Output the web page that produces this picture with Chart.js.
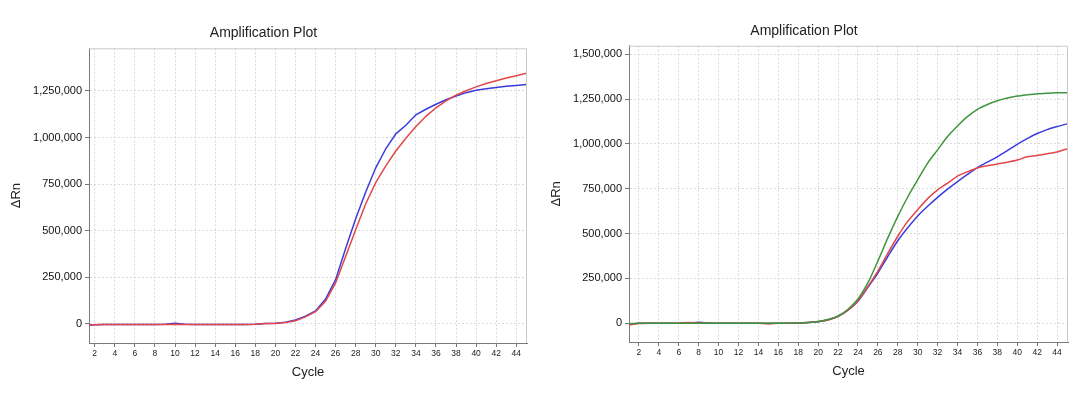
<!DOCTYPE html>
<html>
<head>
<meta charset="utf-8">
<script src="https://cdn.jsdelivr.net/npm/chart.js@4"></script>
<style>
  body { margin: 0; background: #fff; }
  .panel { position: absolute; top: 0; height: 393px; }
  #leftBox { left: 0; width: 530px; }
  #rightBox { left: 540px; width: 535px; }
</style>
</head>
<body>
<div class="panel" id="leftBox"><canvas id="leftChart"></canvas></div>
<div class="panel" id="rightBox"><canvas id="rightChart"></canvas></div>
<script>
// cycles 1..45
const cycles = [1, 2, 3, 4, 5, 6, 7, 8, 9, 10, 11, 12, 13, 14, 15, 16, 17, 18, 19, 20, 21, 22, 23,
  24, 25, 26, 27, 28, 29, 30, 31, 32, 33, 34, 35, 36, 37, 38, 39, 40, 41, 42, 43, 44, 45];

// left plot
const leftBlue = [-8000, -4000, -3000, -3000, -3000, -3000, -3000, -3000, -2000, 4000, -2000, -3000,
  -3000, -3000, -3000, -3000, -3000, -2000, 2000, 4000, 9000, 21000, 42000, 70000, 134000, 238000,
  405000, 565000, 708000, 838000, 940000, 1020000, 1066000, 1122000, 1152000, 1179000, 1203000,
  1223000, 1241000, 1254000, 1262000, 1269000, 1275000, 1280000, 1285000];
const leftRed = [-6000, -4000, -3000, -3000, -3000, -3000, -3000, -3000, -3000, -1000, -3000, -3000,
  -3000, -3000, -3000, -3000, -3000, -1000, 3000, 3000, 8000, 17000, 38000, 66000, 122000, 220000,
  362000, 505000, 645000, 758000, 848000, 928000, 996000, 1059000, 1114000, 1160000, 1197000,
  1228000, 1251000, 1272000, 1290000, 1305000, 1320000, 1332000, 1345000];

// right plot
const rightGreen = [-3000, 0, 0, 0, 0, 0, 0, 0, 0, 0, 0, 0, 0, 0, 0, 0, 0, 1000, 4000, 9000, 20000,
  40000, 78000, 135000, 226000, 346000, 476000, 596000, 704000, 800000, 893000, 967000, 1041000,
  1100000, 1152000, 1193000, 1220000, 1241000, 1256000, 1267000, 1274000, 1280000, 1283000,
  1285000, 1286000];
const rightRed = [-10000, -2000, 0, 0, 0, 0, 4000, 1000, 0, 0, 0, 0, 0, 0, -4000, 0, 0, 1000, 4000,
  9000, 18000, 37000, 72000, 125000, 205000, 291000, 390000, 485000, 568000, 633000, 695000, 744000,
  781000, 820000, 845000, 866000, 878000, 888000, 898000, 910000, 928000, 935000, 945000, 955000,
  972000];
const rightBlue = [-6000, -1000, 0, 0, 0, 0, 0, 5000, 1000, 0, 0, 0, 0, 0, 0, 0, 0, 0, 4000, 8000,
  19000, 38000, 72000, 122000, 200000, 280000, 372000, 460000, 532000, 598000, 652000, 702000,
  748000, 790000, 830000, 868000, 898000, 928000, 962000, 998000, 1030000, 1058000, 1080000,
  1097000, 1112000];

const xTicks = [2, 4, 6, 8, 10, 12, 14, 16, 18, 20, 22, 24, 26, 28, 30, 32, 34, 36, 38, 40, 42, 44];
const leftYTicks = [0, 250000, 500000, 750000, 1000000, 1250000];
const rightYTicks = [0, 250000, 500000, 750000, 1000000, 1250000, 1500000];

const FONT = "'Liberation Sans', Arial, sans-serif";
const BLUE = '#3b3bdc';
const RED = '#e2474a';
const GREEN = '#3f953f';

function toPoints(ys) {
  return cycles.map((c, i) => ({ x: c, y: ys[i] }));
}

const frame = {
  id: 'frame',
  afterDraw(chart) {
    const a = chart.chartArea;
    const ctx = chart.ctx;
    ctx.save();
    ctx.strokeStyle = '#c9c9c9';
    ctx.lineWidth = 1;
    ctx.beginPath();
    ctx.moveTo(a.left, a.top + 0.5);
    ctx.lineTo(a.right - 0.5, a.top + 0.5);
    ctx.lineTo(a.right - 0.5, a.bottom);
    ctx.stroke();
    ctx.restore();
  }
};

function makeChart(id, cfg) {
  const datasets = cfg.series.map(s => ({
    label: s.label,
    data: toPoints(s.data),
    borderColor: s.color,
    borderWidth: 1.5,
    pointRadius: 0,
    tension: cfg.tension,
    fill: false
  }));

  return new Chart(document.getElementById(id), {
    type: 'line',
    data: { datasets: datasets },
    plugins: [frame],
    options: {
      responsive: true,
      maintainAspectRatio: false,
      animation: false,
      layout: { padding: { left: 0, right: cfg.padRight, top: 0, bottom: 0 } },
      plugins: {
        legend: { display: false },
        tooltip: { enabled: false },
        title: {
          display: true,
          text: 'Amplification Plot',
          color: '#222',
          font: { family: FONT, size: 14, weight: 'normal' },
          padding: { top: cfg.titleTop, bottom: cfg.titleBottom }
        }
      },
      scales: {
        x: {
          type: 'linear',
          min: cfg.xMin,
          max: cfg.xMax,
          afterBuildTicks: (scale) => { scale.ticks = xTicks.map(v => ({ value: v })); },
          afterFit: (scale) => { scale.height = cfg.xHeight; },
          ticks: {
            color: '#222',
            padding: 2,
            maxRotation: 0,
            autoSkip: false,
            font: { family: FONT, size: 8.5 }
          },
          grid: { color: '#d9d9d9', tickColor: '#777', tickLength: 4, tickBorderDash: [] },
          border: { display: true, color: '#7a7a7a', width: 1, dash: [2, 2] },
          title: {
            display: true,
            text: 'Cycle',
            color: '#222',
            font: { family: FONT, size: 13 },
            padding: { top: 0, bottom: cfg.cycleBottom }
          }
        },
        y: {
          type: 'linear',
          min: cfg.yMin,
          max: cfg.yMax,
          afterBuildTicks: (scale) => { scale.ticks = cfg.yTicks.map(v => ({ value: v })); },
          afterFit: (scale) => { scale.width = 89; },
          ticks: {
            color: '#111',
            padding: 3,
            font: { family: FONT, size: 11 },
            callback: (v) => Number(v).toLocaleString('en-US')
          },
          grid: { color: '#d9d9d9', tickColor: '#777', tickLength: 4, tickBorderDash: [] },
          border: { display: true, color: '#7a7a7a', width: 1, dash: [2, 2] },
          title: {
            display: true,
            text: '\u0394Rn',
            color: '#222',
            font: { family: FONT, size: 13 },
            padding: { top: 9, bottom: 0 }
          }
        }
      }
    }
  });
}

makeChart('leftChart', {
  series: [
    { label: 'Red', data: leftRed, color: RED },
    { label: 'Blue', data: leftBlue, color: BLUE }
  ],
  tension: 0,
  padRight: 3,
  titleTop: 24.5,
  titleBottom: 7,
  xMin: 1.43, xMax: 45.07,
  yMin: -102000, yMax: 1479000,
  yTicks: leftYTicks,
  xHeight: 50,
  cycleBottom: 13
});

makeChart('rightChart', {
  series: [
    { label: 'Green', data: rightGreen, color: GREEN },
    { label: 'Red', data: rightRed, color: RED },
    { label: 'Blue', data: rightBlue, color: BLUE }
  ],
  tension: 0.25,
  padRight: 7,
  titleTop: 22.3,
  titleBottom: 6.6,
  xMin: 1.0, xMax: 45.1,
  yMin: -105000, yMax: 1548000,
  yTicks: rightYTicks,
  xHeight: 51,
  cycleBottom: 14
});
</script>
</body>
</html>
